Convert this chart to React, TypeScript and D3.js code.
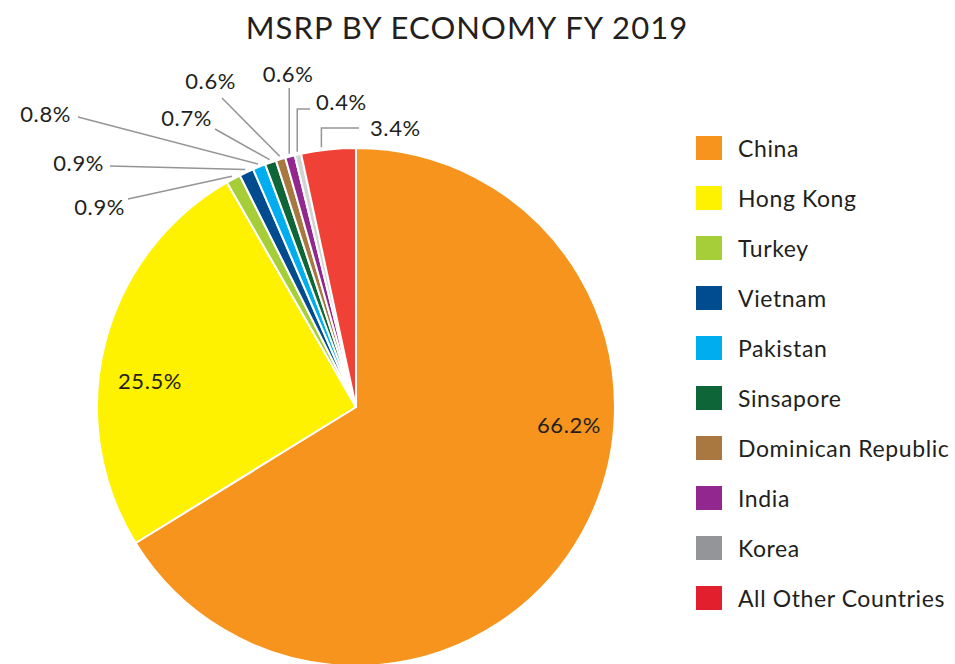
import React from "react";
import * as d3 from "d3";

const categories = [
  "China",
  "Hong Kong",
  "Turkey",
  "Vietnam",
  "Pakistan",
  "Sinsapore",
  "Dominican Republic",
  "India",
  "Korea",
  "All Other Countries",
];
const values = [66.2, 25.5, 0.9, 0.9, 0.8, 0.7, 0.6, 0.6, 0.4, 3.4];
const pieColors = [
  "#F7941D", "#FFF200", "#A6CE39", "#004C8F", "#00AEEF",
  "#0E6638", "#A97841", "#92278F", "#D1D3D4", "#EF4136",
];
const legendColors = [
  "#F7941D", "#FFF200", "#A6CE39", "#004C8F", "#00AEEF",
  "#0E6638", "#A97841", "#92278F", "#939598", "#E11F2D",
];
const title = "MSRP BY ECONOMY FY 2019";

const W = 955;
const H = 664;
const cx = 356;
const cy = 407;
const R = 259;
const FONT = "Lato, 'Open Sans', sans-serif";
const TXT = "#231F20";

type LabelLayout = {
  frac: number;
  pts: [number, number][];
  tx: number;
  ty: number;
  anchor: "start" | "middle" | "end";
};
const outerLayout: Record<number, LabelLayout> = {
  2: { frac: 0.5, pts: [[128, 199]], tx: 125, ty: 215, anchor: "end" },
  3: { frac: 0.5, pts: [[110, 166]], tx: 104, ty: 171, anchor: "end" },
  4: { frac: 0.5, pts: [[78, 117]], tx: 71, ty: 122, anchor: "end" },
  5: { frac: 0.5, pts: [[215, 129]], tx: 212, ty: 126, anchor: "end" },
  6: { frac: 0.5, pts: [[222, 98]], tx: 236, ty: 89, anchor: "end" },
  7: { frac: 0.5, pts: [[290, 88]], tx: 288, ty: 82, anchor: "middle" },
  8: { frac: 0.5, pts: [[297, 109], [310, 109]], tx: 316, ty: 110, anchor: "start" },
  9: { frac: 0.38, pts: [[321, 128], [359, 128]], tx: 370, ty: 136, anchor: "start" },
};
const innerLayout: Record<number, [number, number]> = {
  0: [569, 424],
  1: [150, 380],
};

export default function App() {
  const pie = d3.pie<number>().sort(null).value((d) => d);
  const arcs = pie(values);
  const arcGen = d3.arc<d3.PieArcDatum<number>>().innerRadius(0).outerRadius(R);
  const fmt = (v: number) => `${v.toFixed(1)}%`;

  return (
    <svg
      width={W}
      height={H}
      style={{ position: "absolute", left: 0, top: 0, background: "#fff" }}
    >
      <text
        x={467}
        y={39}
        textAnchor="middle"
        fontFamily={FONT}
        fontSize={31}
        letterSpacing={1.1}
        fill={TXT}
      >
        {title}
      </text>
      <g transform={`translate(${cx},${cy})`}>
        {arcs.map((a, i) => (
          <path
            key={i}
            d={arcGen(a) || ""}
            fill={pieColors[i]}
            stroke="#fff"
            strokeWidth={2}
            strokeLinejoin="round"
          />
        ))}
      </g>
      {arcs.map((a, i) => {
        const lay = outerLayout[i];
        if (!lay) return null;
        const ang = a.startAngle + (a.endAngle - a.startAngle) * lay.frac;
        const r0 = R + 3;
        const sx = cx + r0 * Math.sin(ang);
        const sy = cy - r0 * Math.cos(ang);
        const pts: [number, number][] = [[sx, sy], ...lay.pts];
        if (i === 7 || i === 8 || i === 9) {
          pts[1] = [sx, lay.pts[0][1]];
        }
        const line = d3.line()(pts) || "";
        return (
          <g key={`l${i}`}>
            <path d={line} fill="none" stroke="#939598" strokeWidth={1.5} />
            <text
              x={lay.tx}
              y={lay.ty}
              textAnchor={lay.anchor}
              fontFamily={FONT}
              fontSize={22}
              letterSpacing={0.6}
              fill={TXT}
            >
              {fmt(values[i])}
            </text>
          </g>
        );
      })}
      {Object.keys(innerLayout).map((k) => {
        const i = +k;
        const [x, y] = innerLayout[i];
        return (
          <text
            key={`in${i}`}
            x={x}
            y={y}
            textAnchor="middle"
            dominantBaseline="central"
            fontFamily={FONT}
            fontSize={22}
            letterSpacing={0.6}
            fill={TXT}
          >
            {fmt(values[i])}
          </text>
        );
      })}
      <g>
        {categories.map((c, i) => {
          const y = 148 + i * 50;
          return (
            <g key={c}>
              <rect x={696} y={y - 12} width={26} height={24} fill={legendColors[i]} />
              <text
                x={738}
                y={y}
                dominantBaseline="central"
                fontFamily={FONT}
                fontSize={23}
                letterSpacing={0.6}
                fill={TXT}
              >
                {c}
              </text>
            </g>
          );
        })}
      </g>
    </svg>
  );
}
